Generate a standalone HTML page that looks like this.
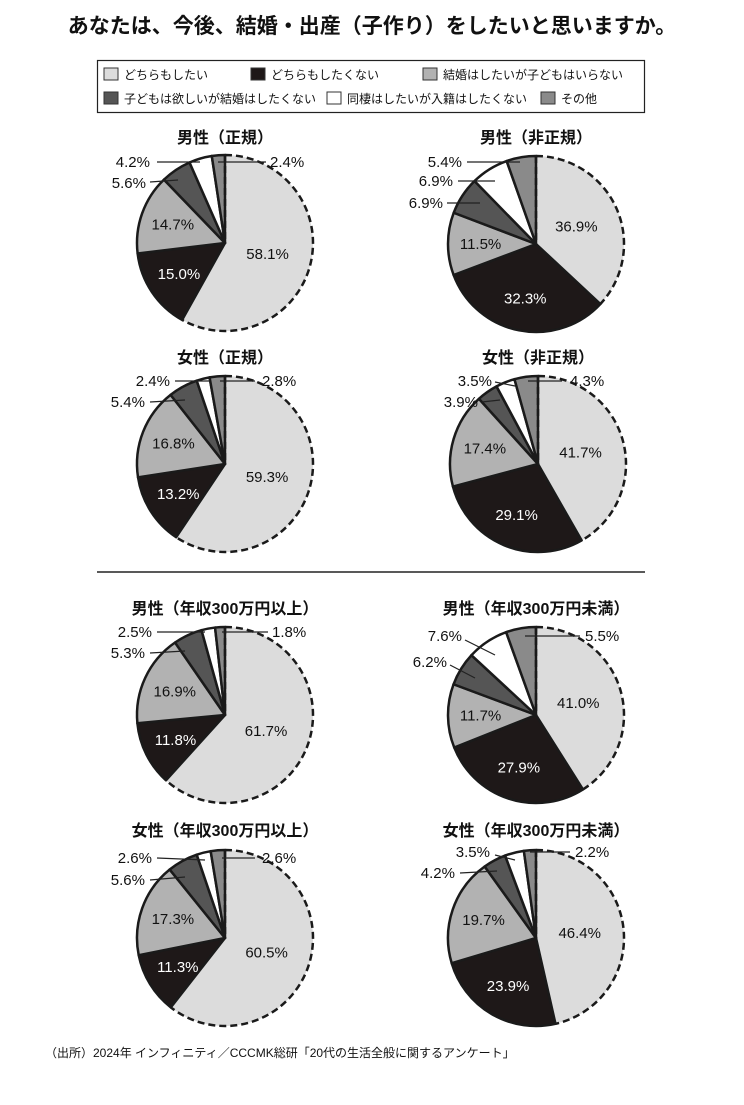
<!DOCTYPE html>
<html><head><meta charset="utf-8"><style>
body{margin:0;background:#fff;}
svg{display:block;font-family:"Liberation Sans","Noto Sans CJK JP",sans-serif;}
</style></head><body>
<svg id="s" width="744" height="1105" viewBox="0 0 744 1105" xmlns="http://www.w3.org/2000/svg">
<text x="372" y="33" text-anchor="middle" font-size="21" font-weight="bold" fill="#111">あなたは、今後、結婚・出産（子作り）をしたいと思いますか。</text>
<rect x="97.5" y="60.5" width="547" height="52" fill="#fff" stroke="#222" stroke-width="1.2"/>
<g font-size="12" fill="#111">
<rect x="104" y="68" width="14" height="12" fill="#dcdcdc" stroke="#333"/><text x="124" y="79">どちらもしたい</text>
<rect x="251" y="68" width="14" height="12" fill="#1e1818" stroke="#333"/><text x="271" y="79">どちらもしたくない</text>
<rect x="423" y="68" width="14" height="12" fill="#b2b2b2" stroke="#333"/><text x="443" y="79">結婚はしたいが子どもはいらない</text>
<rect x="104" y="92" width="14" height="12" fill="#555" stroke="#333"/><text x="124" y="103">子どもは欲しいが結婚はしたくない</text>
<rect x="327" y="92" width="14" height="12" fill="#fff" stroke="#333"/><text x="347" y="103">同棲はしたいが入籍はしたくない</text>
<rect x="541" y="92" width="14" height="12" fill="#8a8a8a" stroke="#333"/><text x="561" y="103">その他</text>
</g>
<line x1="97" y1="572" x2="645" y2="572" stroke="#222" stroke-width="1.5"/>
<text x="45" y="1057" font-size="12" fill="#111">（出所）2024年 インフィニティ／CCCMK総研「20代の生活全般に関するアンケート」</text>
</svg>
<script>
var s=document.getElementById('s');var NS='http://www.w3.org/2000/svg';
function el(t,a,txt){var e=document.createElementNS(NS,t);for(var k in a)e.setAttribute(k,a[k]);if(txt)e.textContent=txt;s.appendChild(e);return e;}
var cols=['#dcdcdc','#1e1818','#b2b2b2','#555','#fff','#8a8a8a'];
var pies=[
{t:'男性（正規）',cx:225,cy:243,ty:143,v:[58.1,15.0,14.7,5.6,4.2,2.4],o:[[150,167,'end',157,162,200,162],[146,188,'end',150,182,178,180],[270,167,'start',218,162,266,162]],ol:['4.2%','5.6%','2.4%']},
{t:'男性（非正規）',cx:536,cy:244,ty:143,v:[36.9,32.3,11.5,6.9,6.9,5.4],o:[[462,167,'end',467,162,520,162],[453,186,'end',458,181,495,181],[443,208,'end',447,203,480,203]],ol:['5.4%','6.9%','6.9%']},
{t:'女性（正規）',cx:225,cy:464,ty:363,v:[59.3,13.2,16.8,5.4,2.4,2.8],o:[[170,386,'end',175,381,210,381],[145,407,'end',150,402,185,400],[262,386,'start',220,381,255,381]],ol:['2.4%','5.4%','2.8%']},
{t:'女性（非正規）',cx:538,cy:464,ty:363,v:[41.7,29.1,17.4,3.9,3.5,4.3],o:[[492,386,'end',495,382,515,386],[478,407,'end',482,402,500,400],[570,386,'start',528,381,562,381]],ol:['3.5%','3.9%','4.3%']},
{t:'男性（年収300万円以上）',cx:225,cy:715,ty:614,v:[61.7,11.8,16.9,5.3,2.5,1.8],o:[[152,637,'end',157,632,205,632],[145,658,'end',150,653,185,651],[272,637,'start',222,632,268,632]],ol:['2.5%','5.3%','1.8%']},
{t:'男性（年収300万円未満）',cx:536,cy:715,ty:614,v:[41.0,27.9,11.7,6.2,7.6,5.5],o:[[462,641,'end',465,640,495,655],[447,667,'end',450,665,475,678],[585,641,'start',525,636,580,636]],ol:['7.6%','6.2%','5.5%']},
{t:'女性（年収300万円以上）',cx:225,cy:938,ty:836,v:[60.5,11.3,17.3,5.6,2.6,2.6],o:[[152,863,'end',157,858,205,860],[145,885,'end',150,880,185,877],[262,863,'start',222,858,255,858]],ol:['2.6%','5.6%','2.6%']},
{t:'女性（年収300万円未満）',cx:536,cy:938,ty:836,v:[46.4,23.9,19.7,4.2,3.5,2.2],o:[[490,857,'end',495,855,515,860],[455,878,'end',460,873,497,871],[575,857,'start',530,852,570,852]],ol:['3.5%','4.2%','2.2%']}
];
var r=88;
pies.forEach(function(p){
 el('text',{x:p.cx,y:p.ty,'text-anchor':'middle','font-size':16,'font-weight':'bold',fill:'#111'},p.t);
 var tot=p.v.reduce(function(a,b){return a+b},0),a=0;
 function pt(ang,rr){return [p.cx+rr*Math.sin(ang),p.cy-rr*Math.cos(ang)];}
 var arcs=[];
 p.v.forEach(function(v,i){
  var a0=a,a1=a+v/tot*2*Math.PI;a=a1;
  var P0=pt(a0,r),P1=pt(a1,r),lg=(a1-a0)>Math.PI?1:0;
  var d='M'+p.cx+','+p.cy+'L'+P0[0]+','+P0[1]+'A'+r+','+r+' 0 '+lg+' 1 '+P1[0]+','+P1[1]+'Z';
  arcs.push([a0,a1,d,P0,P1,lg]);
 });
 arcs.forEach(function(A,i){
  if(i==0)el('path',{d:A[2],fill:cols[0],stroke:'none'});
  else el('path',{d:A[2],fill:cols[i],stroke:'#1a1a1a','stroke-width':2.5,'stroke-linejoin':'round'});
 });
 var A=arcs[0];
 el('path',{d:'M'+p.cx+','+(p.cy-r)+'L'+p.cx+','+p.cy+'M'+A[3][0]+','+A[3][1]+'A'+r+','+r+' 0 '+A[5]+' 1 '+A[4][0]+','+A[4][1],fill:'none',stroke:'#1a1a1a','stroke-width':2.5,'stroke-dasharray':'7,4'});
 for(var i=0;i<3;i++){
  var m=(arcs[i][0]+arcs[i][1])/2,q=pt(m,i==0?r*0.5:r*0.63);
  el('text',{x:q[0],y:q[1]+5,'text-anchor':'middle','font-size':15,fill:i==1?'#fff':'#111'},p.v[i].toFixed(1)+'%');
 }
 p.o.forEach(function(o,j){
  el('line',{x1:o[3],y1:o[4],x2:o[5],y2:o[6],stroke:'#222','stroke-width':1.2});
  el('text',{x:o[0],y:o[1],'text-anchor':o[2],'font-size':15,fill:'#111'},p.ol[j]);
 });
});
</script>
</body></html>
